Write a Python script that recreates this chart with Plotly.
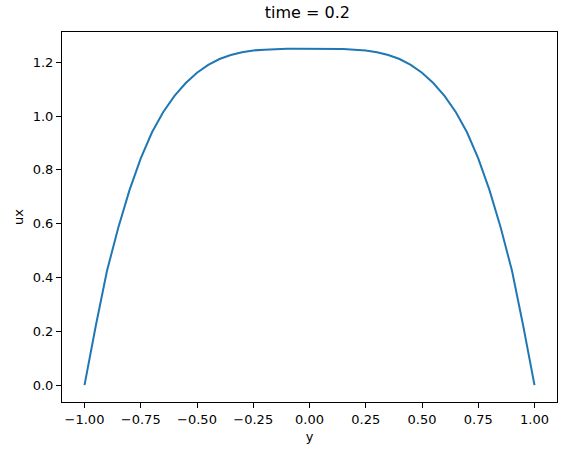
import plotly.graph_objects as go

# Data (velocity profile, symmetric)
y_pos = [-1.00, -0.95, -0.90, -0.85, -0.80, -0.75, -0.70, -0.65, -0.60, -0.55, -0.50,
         -0.45, -0.40, -0.35, -0.30, -0.25, -0.20, -0.15, -0.10, -0.05, 0.00,
         0.05, 0.10, 0.15, 0.20, 0.25, 0.30, 0.35, 0.40, 0.45, 0.50,
         0.55, 0.60, 0.65, 0.70, 0.75, 0.80, 0.85, 0.90, 0.95, 1.00]
ux_vals = [0.0, 0.22, 0.425, 0.585, 0.725, 0.843, 0.94, 1.015, 1.075, 1.123, 1.161,
           1.19, 1.212, 1.227, 1.237, 1.244, 1.247, 1.249, 1.25, 1.25, 1.25,
           1.25, 1.25, 1.249, 1.247, 1.244, 1.237, 1.227, 1.212, 1.19, 1.161,
           1.123, 1.075, 1.015, 0.94, 0.843, 0.725, 0.585, 0.425, 0.22, 0.0]

x_tick_vals = [-1.0, -0.75, -0.5, -0.25, 0.0, 0.25, 0.5, 0.75, 1.0]
x_tick_text = ["\u22121.00", "\u22120.75", "\u22120.50", "\u22120.25", "0.00",
               "0.25", "0.50", "0.75", "1.00"]
y_tick_vals = [0.0, 0.2, 0.4, 0.6, 0.8, 1.0, 1.2]
y_tick_text = ["0.0", "0.2", "0.4", "0.6", "0.8", "1.0", "1.2"]

font_family = "DejaVu Sans"

fig = go.Figure()
fig.add_trace(go.Scatter(x=y_pos, y=ux_vals, mode="lines",
                         line=dict(color="#1f77b4", width=2), showlegend=False,
                         hoverinfo="skip"))

axis_common = dict(showgrid=False, zeroline=False, showline=True, linecolor="black",
                   linewidth=1, mirror=True, ticks="outside", ticklen=5, tickwidth=1,
                   tickcolor="black", automargin=False,
                   tickfont=dict(family=font_family, size=13, color="black"))

fig.update_layout(
    width=567, height=455,
    margin=dict(l=62, r=10, t=32, b=53, autoexpand=False),
    paper_bgcolor="white", plot_bgcolor="white",
    title=dict(text="time = 0.2", x=0.542, xanchor="center", y=0.972, yanchor="middle",
               font=dict(family=font_family, size=16, color="black"), automargin=False),
    xaxis=dict(range=[-1.1, 1.1], tickvals=x_tick_vals, ticktext=x_tick_text,
               title=dict(text="y", font=dict(family=font_family, size=13, color="black"), standoff=6),
               **axis_common),
    yaxis=dict(range=[-0.0625, 1.3125], tickvals=y_tick_vals, ticktext=y_tick_text,
               title=dict(text="ux", font=dict(family=font_family, size=13, color="black"), standoff=6),
               **axis_common),
)

fig.write_html("out.html", config={"displayModeBar": False},
               post_script="document.body.style.margin='0px';document.body.style.overflow='hidden';")
